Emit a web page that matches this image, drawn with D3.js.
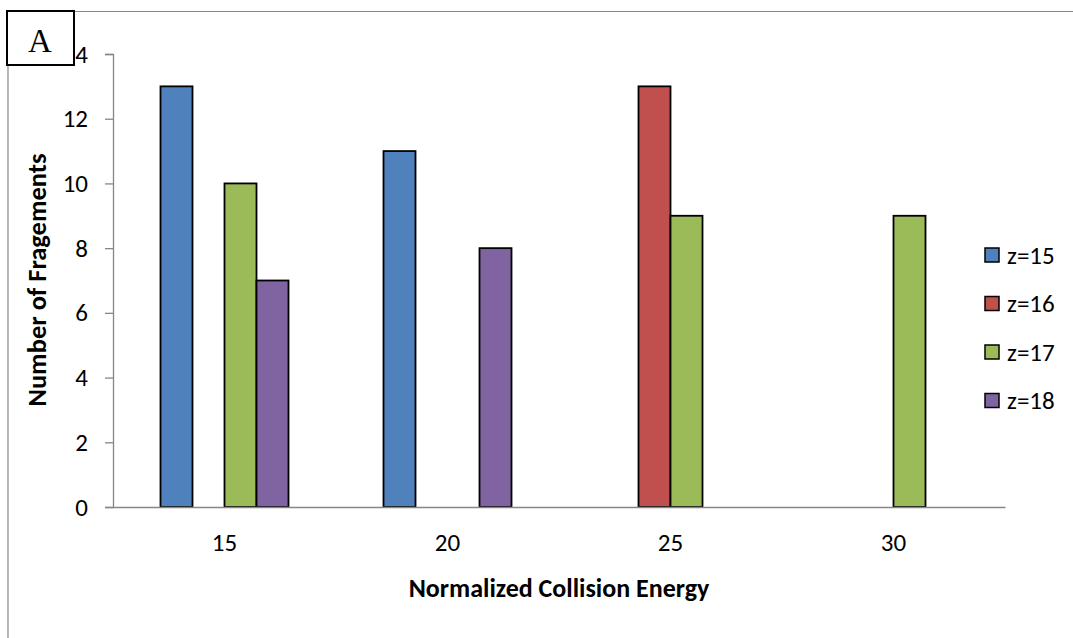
<!DOCTYPE html>
<html>
<head>
<meta charset="utf-8">
<script src="https://cdn.jsdelivr.net/npm/d3@7/dist/d3.min.js"></script>
<style>
  html, body { margin: 0; padding: 0; background: #fff; }
  svg { display: block; }
  text { fill: #000; }
</style>
</head>
<body>
<svg id="chart" width="1073" height="638"></svg>
<script>
// Collision energies on the x axis
const energies = ["15", "20", "25", "30"];
// Charge states, one series each
const charges = ["z=15", "z=16", "z=17", "z=18"];
// Number of fragments per charge state, in the order of `energies` (null = no bar)
const z15 = [13, 11, null, null];
const z16 = [null, null, 13, null];
const z17 = [10, null, 9, 9];
const z18 = [7, 8, null, null];
const yTicks = [0, 2, 4, 6, 8, 10, 12, 14];

const seriesValues = [z15, z16, z17, z18];
const colors = ["#4F81BD", "#C0504D", "#9BBB59", "#8064A2"];
const sans = "Carlito, Calibri, Lato, 'Open Sans', sans-serif";

const svg = d3.select("#chart");

const plot = { left: 113, right: 1005, top: 54, bottom: 507 };

const x = d3.scaleBand().domain(energies).range([plot.left, plot.right]).padding(0);
const groupW = x.bandwidth() * 0.574;
const xs = d3.scaleBand().domain(charges).range([-groupW / 2, groupW / 2]).padding(0);
const y = d3.scaleLinear().domain([0, 14]).range([plot.bottom, plot.top]);
const color = d3.scaleOrdinal().domain(charges).range(colors);

// Frame lines of the figure panel
svg.append("line").attr("x1", 74).attr("x2", 1073).attr("y1", 11.5).attr("y2", 11.5)
  .attr("stroke", "#888").attr("stroke-width", 1.2);
svg.append("line").attr("x1", 8).attr("x2", 8).attr("y1", 65).attr("y2", 638)
  .attr("stroke", "#888").attr("stroke-width", 1.2);

// Y axis
const yAxis = svg.append("g").attr("transform", `translate(${plot.left},0)`)
  .call(d3.axisLeft(y).tickValues(yTicks).tickFormat(d3.format("d")).tickSize(8).tickPadding(17));
yAxis.select(".domain").attr("stroke", "#868686").attr("stroke-width", 1.3);
yAxis.selectAll(".tick line").attr("stroke", "#868686").attr("stroke-width", 1.3);
yAxis.selectAll(".tick text").style("font-size", "25px").style("font-family", sans)
  .attr("fill", "#000");

// Bars
const bars = [];
charges.forEach((c, si) => {
  seriesValues[si].forEach((v, ei) => {
    if (v != null) bars.push({ charge: c, energy: energies[ei], value: v });
  });
});
svg.append("g").selectAll("rect").data(bars).join("rect")
  .attr("x", d => x(d.energy) + x.bandwidth() / 2 + xs(d.charge))
  .attr("width", xs.bandwidth())
  .attr("y", d => y(d.value))
  .attr("height", d => y(0) - y(d.value))
  .attr("fill", d => color(d.charge))
  .attr("stroke", "#000")
  .attr("stroke-width", 1.8);

// X axis
const xAxis = svg.append("g").attr("transform", `translate(0,${plot.bottom})`)
  .call(d3.axisBottom(x).tickSize(0).tickPadding(26));
xAxis.select(".domain").attr("stroke", "#868686").attr("stroke-width", 1.3);
xAxis.selectAll(".tick text").style("font-size", "25px").style("font-family", sans)
  .attr("fill", "#000");

// Axis titles
svg.append("text").attr("x", (plot.left + plot.right) / 2).attr("y", 597)
  .attr("text-anchor", "middle")
  .style("font-family", sans).style("font-weight", "bold").style("font-size", "26px")
  .text("Normalized Collision Energy");
svg.append("text").attr("transform", "translate(46,280) rotate(-90)")
  .attr("text-anchor", "middle")
  .style("font-family", sans).style("font-weight", "bold").style("font-size", "26.5px")
  .text("Number of Fragements");

// Legend
const legend = svg.append("g").selectAll("g").data(charges).join("g")
  .attr("transform", (d, i) => `translate(985,${255 + i * 48.5})`);
legend.append("rect").attr("x", 0).attr("y", -7).attr("width", 14).attr("height", 14)
  .attr("fill", d => color(d)).attr("stroke", "#000").attr("stroke-width", 1.5);
legend.append("text").attr("x", 22).attr("y", 0).attr("dy", "0.35em")
  .style("font-family", sans).style("font-size", "25px").text(d => d);

// Panel label
svg.append("rect").attr("x", 7).attr("y", 11).attr("width", 67).attr("height", 54)
  .attr("fill", "#fff").attr("stroke", "#000").attr("stroke-width", 2);
svg.append("text").attr("x", 40).attr("y", 52).attr("text-anchor", "middle")
  .style("font-family", "'Liberation Serif', 'Times New Roman', serif").style("font-size", "33px")
  .text("A");
</script>
</body>
</html>
